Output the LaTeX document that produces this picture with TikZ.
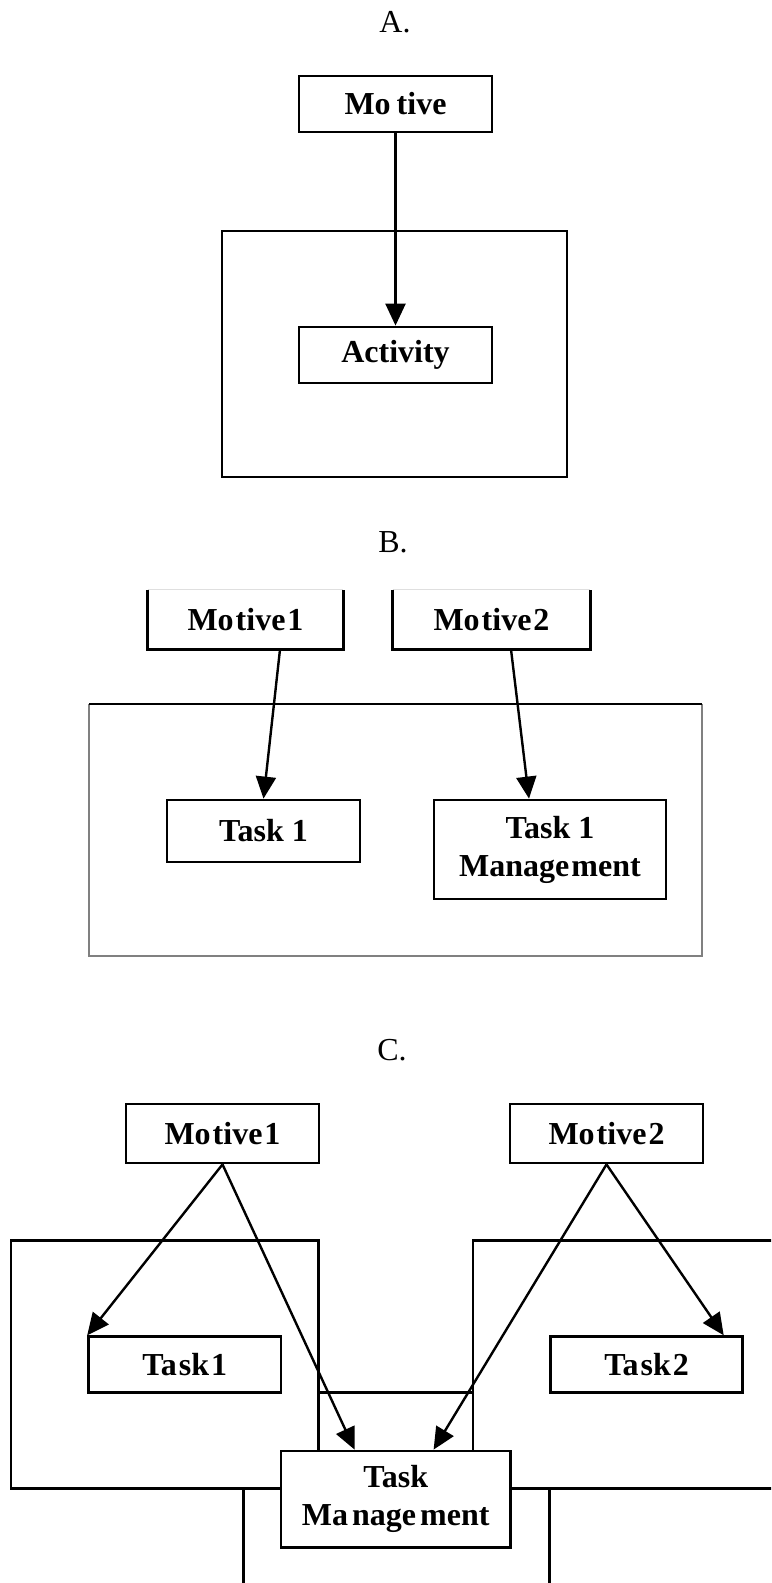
\documentclass[tikz,border=0pt]{standalone}
\usepackage{fontspec}
\setmainfont{Liberation Serif}
\usetikzlibrary{arrows.meta,calc}
\begin{document}
\begin{tikzpicture}[x=0.5pt,y=-0.5pt,>={Triangle[length=11pt,width=10pt]},
  box/.style={draw,line width=1.4pt,fill=white,inner sep=0pt,align=center,
    font=\fontsize{16}{19}\selectfont\bfseries},
  frame/.style={line width=1.3pt},
  thinframe/.style={gray,line width=0.6pt},
  arr/.style={->,line width=1.2pt},
  caption/.style={font=\fontsize{16}{18}\selectfont}]
  \clip (0,0) rectangle (771,1583);
  \fill[white] (0,0) rectangle (771,1583);

  % A.
  \node[caption] (capA) at (395,22) {A.};
  \draw[frame] (222,231) rectangle (567,477);
  \node[box,minimum width=96.5pt,minimum height=28pt] (motA) at (395.5,104) {Mo\kern3pt tive};
  \node[box,minimum width=96.5pt,minimum height=28pt] (actA) at (395.5,355) {Activity};
  \draw[arr] (motA) -- (actA);

  % B.
  \node[caption] (capB) at (393,542) {B.};
  \draw[thinframe] (702,704) -- (702,956) -- (89,956) -- (89,704);
  \draw[frame] (89,704) -- (702,704);
  \node[box,draw=none,minimum width=96.5pt,minimum height=28.5pt] (motB1) at (245.5,619.5) {Mo\kern1pt tive\kern1pt 1};
  \node[box,draw=none,minimum width=97.5pt,minimum height=28.5pt] (motB2) at (491.5,619.5) {Mo\kern1pt tive\kern1pt 2};
  \foreach \m in {motB1,motB2}{
    \draw[gray!25,line width=0.5pt] (\m.north west) -- (\m.north east);
    \draw[line width=1.4pt] (\m.north west) -- (\m.south west) -- (\m.south east) -- (\m.north east);
  }
  \node[box,minimum width=96.5pt,minimum height=31pt] (tskB1) at (263.5,831) {Task 1};
  \node[box,minimum width=116pt,minimum height=49.5pt] (mgtB) at (550,849.5) {Task 1\\Manage\kern1pt ment};
  \draw[arr] ($(motB1.south)+(34.5,0)$) -- (tskB1.north);
  \draw[arr] ($(motB2.south)+(19.5,0)$) -- ($(mgtB.north)+(-21,0)$);

  % C.
  \node[caption] (capC) at (392,1050) {C.};
  \draw[frame] (243.7,1392.3) rectangle (549.7,1620);
  \draw[frame,fill=white] (11,1240.7) rectangle (318.5,1488.5);
  \draw[frame,fill=white] (790,1240.7) -- (473,1240.7) -- (473,1488.5) -- (790,1488.5);
  \node[box,minimum width=96.5pt,minimum height=29.5pt] (motC1) at (222.5,1133.5) {Mo\kern1pt tive\kern1pt 1};
  \node[box,minimum width=96.5pt,minimum height=29.5pt] (motC2) at (606.5,1133.5) {Mo\kern1pt tive\kern1pt 2};
  \node[box,minimum width=96.2pt,minimum height=28pt] (tskC1) at (184.8,1364.7) {Ta\kern1pt sk\kern1pt 1};
  \node[box,minimum width=96.2pt,minimum height=28pt] (tskC2) at (646.6,1364.7) {Ta\kern1pt sk\kern1pt 2};
  \node[box,minimum width=114.7pt,minimum height=48.3pt] (mgtC) at (395.7,1499.3) {Task\\Ma\kern2pt nage\kern2pt ment};
  \draw[arr] (motC1.south) -- (tskC1.north west);
  \draw[arr] (motC1.south) -- ($(mgtC.north west)+(75,0)$);
  \draw[arr] (motC2.south) -- ($(mgtC.north west)+(154,0)$);
  \draw[arr] (motC2.south) -- ($(tskC2.north east)+(-20.5,0)$);
\end{tikzpicture}
\end{document}
